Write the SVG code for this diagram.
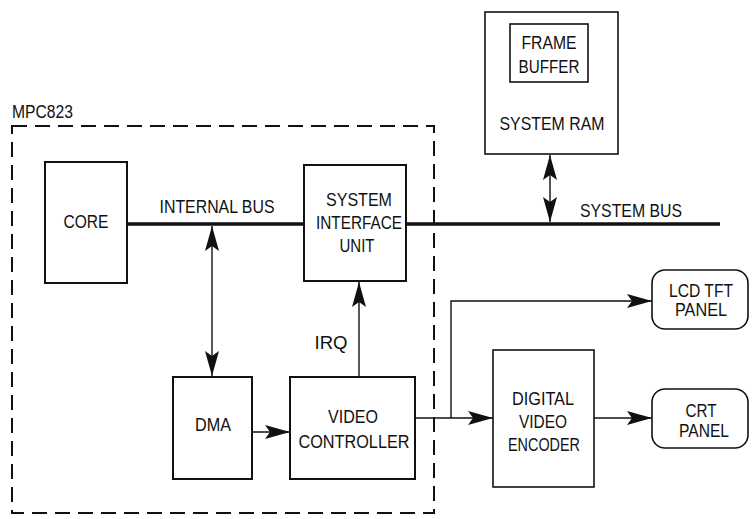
<svg xmlns="http://www.w3.org/2000/svg" width="753" height="519" viewBox="0 0 753 519">
<defs>
<style>
text{font-family:"Liberation Sans",Arial,sans-serif;font-size:17.5px;fill:#111;text-anchor:middle}
.box{fill:#fff;stroke:#111;stroke-width:2}
.bus{stroke:#111;stroke-width:3.5;fill:none}
.wire{stroke:#111;stroke-width:1.4;fill:none}
.dash{fill:none;stroke:#111;stroke-width:2;stroke-dasharray:15 8}
</style>
<marker id="ah" markerUnits="userSpaceOnUse" markerWidth="26" markerHeight="16" viewBox="0 0 26 16" refX="25" refY="8" orient="auto-start-reverse">
<path d="M0,1 L25,8 L0,15 L5,8 z" fill="#111"/>
</marker>
</defs>
<rect id="mpc823-frame" class="dash" x="12" y="126" width="422" height="387"/>
<text x="12" y="118" style="text-anchor:start" textLength="61" lengthAdjust="spacingAndGlyphs">MPC823</text>
<g id="connectors">
<line class="bus" x1="127" y1="224" x2="304" y2="224"/>
<line class="bus" x1="406" y1="224" x2="720" y2="224"/>
<line class="wire" x1="212" y1="226" x2="212" y2="376" marker-start="url(#ah)" marker-end="url(#ah)"/>
<line class="wire" x1="359" y1="376" x2="359" y2="282" marker-end="url(#ah)"/>
<line class="wire" x1="252" y1="432" x2="290" y2="432" marker-end="url(#ah)"/>
<line class="wire" x1="550" y1="155" x2="550" y2="222" marker-start="url(#ah)" marker-end="url(#ah)"/>
<line class="wire" x1="415" y1="418" x2="493" y2="418" marker-end="url(#ah)"/>
<polyline class="wire" points="451,418 451,301 652,301" marker-end="url(#ah)"/>
<line class="wire" x1="594" y1="418" x2="652" y2="418" marker-end="url(#ah)"/>
</g>
<text x="217" y="213" textLength="115" lengthAdjust="spacingAndGlyphs">INTERNAL BUS</text>
<text x="631" y="217" textLength="102" lengthAdjust="spacingAndGlyphs">SYSTEM BUS</text>
<text x="331" y="349" textLength="33" lengthAdjust="spacingAndGlyphs">IRQ</text>
<g id="core"><rect class="box" x="45" y="162" width="82" height="121"/><text x="86" y="228" textLength="45" lengthAdjust="spacingAndGlyphs">CORE</text></g>
<g id="siu"><rect class="box" x="304" y="165" width="102" height="116"/><text x="359" y="206" textLength="66" lengthAdjust="spacingAndGlyphs">SYSTEM</text><text x="359" y="229" textLength="86" lengthAdjust="spacingAndGlyphs">INTERFACE</text><text x="357" y="252" textLength="35" lengthAdjust="spacingAndGlyphs">UNIT</text></g>
<g id="dma"><rect class="box" x="173" y="377" width="79" height="102"/><text x="213" y="431" textLength="36" lengthAdjust="spacingAndGlyphs">DMA</text></g>
<g id="video-controller"><rect class="box" x="290" y="377" width="125" height="102"/><text x="353" y="423" textLength="50" lengthAdjust="spacingAndGlyphs">VIDEO</text><text x="354" y="448" textLength="111" lengthAdjust="spacingAndGlyphs">CONTROLLER</text></g>
<g id="system-ram"><rect class="box" x="485" y="12" width="133" height="142" style="stroke-width:1.6"/><text x="552" y="130" textLength="105" lengthAdjust="spacingAndGlyphs">SYSTEM RAM</text></g>
<g id="frame-buffer"><rect class="box" x="510" y="24" width="78" height="58" style="stroke-width:1.6"/><text x="549" y="49" textLength="55" lengthAdjust="spacingAndGlyphs">FRAME</text><text x="549" y="73" textLength="61" lengthAdjust="spacingAndGlyphs">BUFFER</text></g>
<g id="dve"><rect class="box" x="493" y="350" width="101" height="137" style="stroke-width:1.6"/><text x="543" y="405" textLength="62" lengthAdjust="spacingAndGlyphs">DIGITAL</text><text x="543" y="428" textLength="48" lengthAdjust="spacingAndGlyphs">VIDEO</text><text x="544" y="451" textLength="72" lengthAdjust="spacingAndGlyphs">ENCODER</text></g>
<g id="lcd"><rect class="box" x="652" y="270" width="96" height="59" rx="13" style="stroke-width:1.6"/><text x="701" y="297" textLength="64" lengthAdjust="spacingAndGlyphs">LCD TFT</text><text x="701" y="316" textLength="52" lengthAdjust="spacingAndGlyphs">PANEL</text></g>
<g id="crt"><rect class="box" x="652" y="389" width="96" height="59" rx="13" style="stroke-width:1.6"/><text x="701" y="417" textLength="31" lengthAdjust="spacingAndGlyphs">CRT</text><text x="704" y="437" textLength="50" lengthAdjust="spacingAndGlyphs">PANEL</text></g>
</svg>
